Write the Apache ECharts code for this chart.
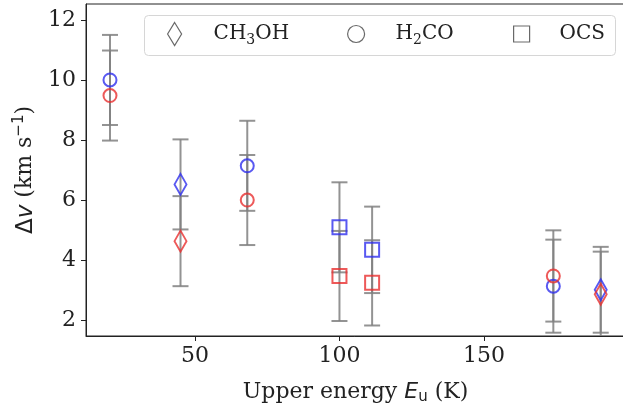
<!DOCTYPE html>
<html>
<head>
<meta charset="utf-8">
<script src="https://cdn.jsdelivr.net/npm/echarts@6/dist/echarts.min.js"></script>
<style>
  html, body { margin: 0; padding: 0; background: #fff; }
  #chart { width: 623px; height: 407px; }
</style>
</head>
<body>
<div id="chart"></div>
<script>
// Line widths versus upper-level energy, two components per transition
const energyK  = [20.6, 45.0, 68.1, 100.0, 111.3, 174.0, 190.4];
const species  = ['H2CO', 'CH3OH', 'H2CO', 'OCS', 'OCS', 'H2CO', 'CH3OH'];
const blueDv   = [10.0, 6.52, 7.14, 5.09, 4.34, 3.13, 3.01];
const blueErr  = [1.5, 1.5, 1.5, 1.5, 1.44, 1.55, 1.43];
const redDv    = [9.48, 4.63, 6.0, 3.47, 3.24, 3.47, 2.86];
const redErr   = [1.5, 1.5, 1.5, 1.5, 1.42, 1.52, 1.42];
const xTicks   = [50, 100, 150];
const yTicks   = [2, 4, 6, 8, 10, 12];
const speciesNames = ['CH3OH', 'H2CO', 'OCS'];

const SERIF = 'DejaVu Serif';
const SANS = 'DejaVu Sans';
const BLUE = '#3030ee';
const RED = '#e83030';
const ERR_GRAY = 'rgba(128,128,128,0.85)';

const symbolOf = { CH3OH: 'diamond', H2CO: 'circle', OCS: 'rect' };
const sizeOf = { CH3OH: [12, 21], H2CO: 13, OCS: 14 };

function renderErrorBar(params, api) {
  const x = api.value(0), y = api.value(1), e = api.value(2);
  const hi = api.coord([x, y + e]);
  const lo = api.coord([x, y - e]);
  const half = 8;
  const style = { stroke: ERR_GRAY, lineWidth: 2 };
  return {
    type: 'group',
    children: [
      { type: 'line', shape: { x1: hi[0], y1: hi[1], x2: lo[0], y2: lo[1] }, style },
      { type: 'line', shape: { x1: hi[0] - half, y1: hi[1], x2: hi[0] + half, y2: hi[1] }, style },
      { type: 'line', shape: { x1: lo[0] - half, y1: lo[1], x2: lo[0] + half, y2: lo[1] }, style }
    ]
  };
}

function pointSeries(name, values, color) {
  return {
    name: name,
    type: 'scatter',
    z: 3,
    data: energyK.map((e, i) => [e, values[i], species[i]]),
    symbol: v => symbolOf[v[2]],
    symbolSize: v => sizeOf[v[2]],
    itemStyle: { color: 'rgba(0,0,0,0)', borderColor: color, borderWidth: 2 },
    emphasis: { disabled: true }
  };
}

function legendSeries(name, symbol) {
  return {
    name: name, type: 'scatter', data: [], symbol: symbol,
    itemStyle: { color: 'rgba(0,0,0,0)', borderColor: '#444', borderWidth: 1.2 }
  };
}

const subRich = {
  s: { fontFamily: SERIF, fontSize: 14, color: '#222', verticalAlign: 'bottom', lineHeight: 14 }
};
const legendLabels = { CH3OH: 'CH{s|3}OH', H2CO: 'H{s|2}CO', OCS: 'OCS' };

function legendBox(name, icon, left, top, w, h, padLeft) {
  return {
    data: [{ name: name, icon: icon }],
    left: left, top: top, padding: 0,
    itemWidth: w, itemHeight: h,
    selectedMode: false,
    itemStyle: { color: 'rgba(0,0,0,0)', borderColor: '#444', borderWidth: 1.2 },
    formatter: n => legendLabels[n],
    textStyle: {
      fontFamily: SERIF, fontSize: 20, color: '#222', lineHeight: 26,
      padding: [0, 0, 0, padLeft], rich: subRich
    }
  };
}

const chart = echarts.init(document.getElementById('chart'), null, { renderer: 'canvas' });
chart.setOption({
  animation: false,
  backgroundColor: '#fff',
  grid: {
    left: 86, top: 4, right: -2, bottom: 71,
    outerBoundsMode: 'none', containLabel: false,
    show: true, borderColor: '#222', borderWidth: 1, backgroundColor: 'transparent'
  },
  xAxis: {
    type: 'value', min: 12.3, max: 198.8,
    splitLine: { show: false },
    axisLine: { lineStyle: { color: '#222', width: 1 } },
    axisTick: { customValues: xTicks, length: 5, lineStyle: { color: '#222' } },
    axisLabel: { customValues: xTicks, fontFamily: SERIF, fontSize: 22, color: '#222', margin: 9 },
    name: '{t|Upper energy }{i|E}{u|u}{t| (K)}',
    nameLocation: 'middle', nameGap: 43,
    nameTextStyle: {
      rich: {
        t: { fontFamily: SERIF, fontSize: 22, color: '#222', lineHeight: 26 },
        i: { fontFamily: SANS, fontStyle: 'italic', fontSize: 22, color: '#222', lineHeight: 26 },
        u: { fontFamily: SANS, fontSize: 15, color: '#222', verticalAlign: 'bottom', lineHeight: 15 }
      }
    }
  },
  yAxis: {
    type: 'value', min: 1.47, max: 12.53,
    splitLine: { show: false },
    axisLine: { show: true, lineStyle: { color: '#222', width: 1 } },
    axisTick: { show: true, customValues: yTicks, length: 5, lineStyle: { color: '#222' } },
    axisLabel: { customValues: yTicks, fontFamily: SERIF, fontSize: 22, color: '#222', margin: 10 },
    name: '{d|Δ}{i|v}{t| (km s}{p|−1}{t|)}',
    nameLocation: 'middle', nameGap: 46, nameRotate: 90,
    nameTextStyle: {
      rich: {
        d: { fontFamily: SANS, fontSize: 23, color: '#222', lineHeight: 28 },
        i: { fontFamily: SANS, fontStyle: 'italic', fontSize: 23, color: '#222', lineHeight: 28 },
        t: { fontFamily: SERIF, fontSize: 22, color: '#222', lineHeight: 28 },
        p: { fontFamily: SANS, fontSize: 15, color: '#222', verticalAlign: 'top', lineHeight: 15 }
      }
    }
  },
  legend: [
    legendBox('CH3OH', 'diamond', 167, 21, 14, 23, 27),
    legendBox('H2CO', 'circle', 347, 21, 17, 17, 26),
    legendBox('OCS', 'rect', 513, 21, 16, 16, 25)
  ],
  graphic: [{
    type: 'rect', left: 144, top: 15, z: 3,
    shape: { width: 471, height: 40, r: 4 },
    style: { fill: 'rgba(255,255,255,0.8)', stroke: '#d6d6d6', lineWidth: 1 }
  }],
  series: [
    {
      type: 'custom', name: 'errBlue', z: 1, clip: true,
      renderItem: renderErrorBar,
      data: energyK.map((e, i) => [e, blueDv[i], blueErr[i]])
    },
    {
      type: 'custom', name: 'errRed', z: 1, clip: true,
      renderItem: renderErrorBar,
      data: energyK.map((e, i) => [e, redDv[i], redErr[i]])
    },
    pointSeries('blue', blueDv, BLUE),
    pointSeries('red', redDv, RED),
    legendSeries('CH3OH', 'diamond'),
    legendSeries('H2CO', 'circle'),
    legendSeries('OCS', 'rect')
  ]
});
</script>
</body>
</html>
